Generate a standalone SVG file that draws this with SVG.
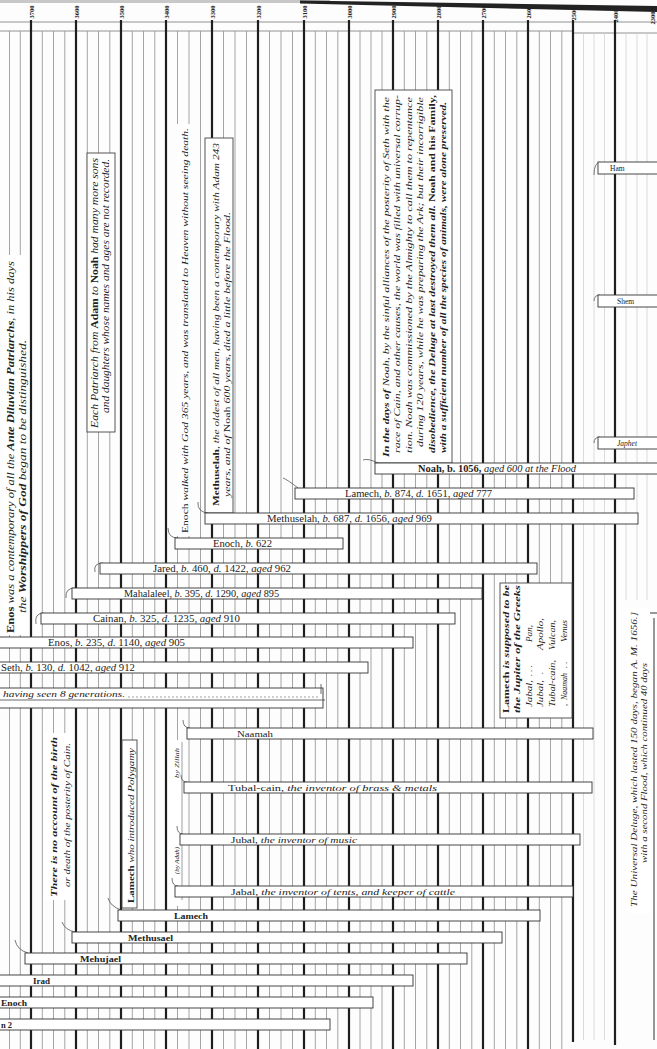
<svg xmlns="http://www.w3.org/2000/svg" width="657" height="1049" viewBox="0 0 657 1049">
<style>
.t{font-family:"Liberation Serif","Times New Roman",serif;fill:#222}
.i{font-style:italic}
.b{font-weight:bold}
.bar{fill:#fff;stroke:#333;stroke-width:0.9}
.box{fill:#fff;stroke:#444;stroke-width:0.9}
.wh{fill:#fff}
.thin{stroke:#9a9a9a;stroke-width:0.9;fill:none}
.thick{stroke:#1e1e1e;stroke-width:2.2;fill:none}
.faint{stroke:#d2d2d2;stroke-width:0.8;fill:none}
.curl{fill:none;stroke:#555;stroke-width:0.8}
.hl{stroke:#777;stroke-width:0.8;fill:none}
</style>
<rect x="0" y="0" width="657" height="1049" fill="#fdfdfd"/>
<rect x="0" y="0" width="330" height="3" fill="#c8c8c8"/>
<polygon points="300,0.5 657,6 657,12 300,3.5" fill="#222"/>
<g id="grid">
<path class="hl" d="M0 22H657M0 31H573M573 33H657"/>
<path class="thin" d="M9.5 31V1049M20.3 31V1049M42.3 31V1049M53.5 31V1049M64.8 31V1049M87.3 31V1049M98.5 31V1049M109.8 31V1049M132.3 31V1049M143.5 31V1049M154.8 31V1049M177.5 31V1049M189 31V1049M200.5 31V1049M223.5 31V1049M235 31V1049M246.5 31V1049M269.5 31V1049M281 31V1049M292.5 31V1049M315.3 31V1049M326.5 31V1049M337.8 31V1049M360 31V1049M371 31V1049M382 31V1049M404.3 31V1049M415.5 31V1049M426.8 31V1049M449.3 31V1049M460.5 31V1049M471.8 31V1049M494.3 31V1049M505.5 31V1049M516.8 31V1049M539.3 31V1049M550.5 31V1049M561.8 31V1049"/>
<path class="faint" d="M583.5 33V1040M594 33V1040M604.5 33V1040M626 33V600M637 33V600M647 33V600"/>
<path class="thick" d="M31 20V1049M76 20V1049M121 20V1049M166 20V1049M212 20V1049M258 20V1049M304 20V1049M349 20V1049M393 20V1049M438 20V1049M483 20V1049M528 20V1049M573 20V1042M615 20V1045"/>
<path d="M654 618V1040M649 613H657" stroke="#333" stroke-width="1" fill="none"/>
</g>
<g id="years" class="t b" font-size="6.5" text-anchor="middle">
<text transform="translate(33.5 12) rotate(-90)">3700</text>
<text transform="translate(78.5 12) rotate(-90)">3600</text>
<text transform="translate(123.5 12) rotate(-90)">3500</text>
<text transform="translate(168.5 12) rotate(-90)">3400</text>
<text transform="translate(214.5 12) rotate(-90)">3300</text>
<text transform="translate(260.5 12) rotate(-90)">3200</text>
<text transform="translate(306.5 12) rotate(-90)">3100</text>
<text transform="translate(351.5 12) rotate(-90)">3000</text>
<text transform="translate(395.5 12) rotate(-90)">2900</text>
<text transform="translate(440.5 12) rotate(-90)">2800</text>
<text transform="translate(485.5 12) rotate(-90)">2700</text>
<text transform="translate(530.5 12) rotate(-90)">2600</text>
<text transform="translate(575.5 14) rotate(-90)">2500</text>
<text transform="translate(617.5 16) rotate(-90)">2400</text>
<text transform="translate(655 18) rotate(-90)">2300</text>
</g>

<g id="note-enos">
<rect class="wh" x="3" y="255" width="25" height="380"/>
<text class="t i" font-size="9.5" transform="translate(13.5 633) rotate(-90)" textLength="372" lengthAdjust="spacingAndGlyphs"><tspan font-style="normal" font-weight="bold">Enos</tspan> was a contemporary of all the <tspan font-weight="bold">Ante Diluvian Patriarchs</tspan>, in his days</text>
<text class="t i" font-size="9.5" transform="translate(26 613) rotate(-90)" textLength="273" lengthAdjust="spacingAndGlyphs">the <tspan font-weight="bold">Worshippers of God</tspan> began to be distinguished.</text>
</g>
<g id="note-patriarchs">
<rect class="box" x="87" y="153" width="28" height="279"/>
<text class="t i" font-size="9.5" transform="translate(97.5 428) rotate(-90)" textLength="270" lengthAdjust="spacingAndGlyphs">Each Patriarch from <tspan font-style="normal" font-weight="bold">Adam</tspan> to <tspan font-style="normal" font-weight="bold">Noah</tspan> had many more sons</text>
<text class="t i" font-size="9.5" transform="translate(108.5 413) rotate(-90)" textLength="254" lengthAdjust="spacingAndGlyphs">and daughters whose names and ages are not recorded.</text>
</g>
<g id="note-enoch">
<rect class="wh" x="177" y="124" width="13" height="412"/>
<text class="t i" font-size="9" transform="translate(187.5 533) rotate(-90)" textLength="405" lengthAdjust="spacingAndGlyphs"><tspan font-style="normal">Enoch</tspan> walked with God 365 years, and was translated to Heaven without seeing death.</text>
</g>
<g id="note-methuselah">
<rect class="box" x="205" y="138" width="28" height="375"/>
<text class="t i" font-size="9" transform="translate(218.5 506) rotate(-90)" textLength="363" lengthAdjust="spacingAndGlyphs"><tspan font-style="normal" font-weight="bold">Methuselah</tspan>, the oldest of all men, having been a contemporary with Adam 243</text>
<text class="t i" font-size="9" transform="translate(230 497) rotate(-90)" textLength="285" lengthAdjust="spacingAndGlyphs">years, and of <tspan font-style="normal">Noah</tspan> 600 years, died a little before the Flood.</text>
</g>
<g id="note-noah">
<rect class="box" x="375" y="90" width="77" height="373"/>
<text class="t i" font-size="8.5" transform="translate(388.5 457) rotate(-90)" textLength="360" lengthAdjust="spacingAndGlyphs"><tspan font-weight="bold">In the days of</tspan> Noah, by the sinful alliances of the posterity of Seth with the</text>
<text class="t i" font-size="8.5" transform="translate(400 453) rotate(-90)" textLength="358" lengthAdjust="spacingAndGlyphs">race of Cain, and other causes, the world was filled with universal corrup-</text>
<text class="t i" font-size="8.5" transform="translate(411.5 453) rotate(-90)" textLength="356" lengthAdjust="spacingAndGlyphs">tion.    Noah was commissioned by the Almighty to call them to repentance</text>
<text class="t i" font-size="8.5" transform="translate(423 447) rotate(-90)" textLength="350" lengthAdjust="spacingAndGlyphs">during 120 years, while he was preparing the Ark; but their incorrigible</text>
<text class="t i b" font-size="8.5" transform="translate(434.5 453) rotate(-90)" textLength="358" lengthAdjust="spacingAndGlyphs">disobedience, the Deluge at last destroyed them all.  <tspan font-style="normal">Noah and his Family,</tspan></text>
<text class="t i b" font-size="8.5" transform="translate(446 453) rotate(-90)" textLength="351" lengthAdjust="spacingAndGlyphs">with a sufficient number of all the species of animals, were alone preserved.</text>
</g>
<g id="note-jupiter">
<rect class="box" x="500" y="583" width="72" height="135"/>
<text class="t i b" font-size="8.5" transform="translate(508.5 713) rotate(-90)" textLength="128" lengthAdjust="spacingAndGlyphs"><tspan font-style="normal">Lamech</tspan> is supposed to be</text>
<text class="t i b" font-size="8.5" transform="translate(520 713) rotate(-90)" textLength="128" lengthAdjust="spacingAndGlyphs">the Jupiter of the Greeks</text>
<g class="t i" font-size="8.5">
<text transform="translate(531.5 707) rotate(-90)" textLength="27" lengthAdjust="spacingAndGlyphs">Jabal,</text>
<text transform="translate(531.5 676) rotate(-90)">. . .</text>
<text transform="translate(531.5 642) rotate(-90)" textLength="17" lengthAdjust="spacingAndGlyphs">Pan,</text>
<text transform="translate(543 707) rotate(-90)" textLength="27" lengthAdjust="spacingAndGlyphs">Jubal,</text>
<text transform="translate(543 674) rotate(-90)">.</text>
<text transform="translate(543 650) rotate(-90)" textLength="32" lengthAdjust="spacingAndGlyphs">Apollo,</text>
<text transform="translate(555 707) rotate(-90)" textLength="47" lengthAdjust="spacingAndGlyphs">Tubal-cain,</text>
<text transform="translate(555 650) rotate(-90)" textLength="30" lengthAdjust="spacingAndGlyphs">Vulcan,</text>
<text transform="translate(567 706) rotate(-90)">,</text>
<text transform="translate(567 700) rotate(-90)" textLength="27" lengthAdjust="spacingAndGlyphs">Naamah</text>
<text transform="translate(567 668) rotate(-90)">. .</text>
<text transform="translate(567 642) rotate(-90)" textLength="22" lengthAdjust="spacingAndGlyphs">Venus</text>
</g>
</g>
<g id="note-cain">
<rect class="wh" x="44" y="733" width="28" height="167"/>
<text class="t i b" font-size="9" transform="translate(57 897) rotate(-90)" textLength="160" lengthAdjust="spacingAndGlyphs">There is no account of the birth</text>
<text class="t i" font-size="9" transform="translate(70 887) rotate(-90)" textLength="144" lengthAdjust="spacingAndGlyphs">or death of the posterity of Cain.</text>
</g>
<g id="note-polygamy">
<rect class="box" x="122" y="740" width="15" height="168"/>
<text class="t i" font-size="9" transform="translate(134 903) rotate(-90)" textLength="155" lengthAdjust="spacingAndGlyphs"><tspan font-style="normal" font-weight="bold">Lamech</tspan> who introduced Polygamy</text>
</g>
<g id="note-wives">
<rect class="wh" x="168" y="740" width="13" height="166"/>
<path d="M182 742V900" stroke="#888" stroke-width="0.8"/>
<text class="t i" font-size="7" transform="translate(178.5 778) rotate(-90)" textLength="30" lengthAdjust="spacingAndGlyphs">by Zillah</text>
<text class="t i" font-size="7" transform="translate(179 874) rotate(-90)" textLength="27" lengthAdjust="spacingAndGlyphs">(by Adah)</text>
</g>
<g id="note-flood">
<rect class="wh" x="626" y="608" width="24" height="305"/>
<text class="t i" font-size="7.5" transform="translate(636.5 907) rotate(-90)" textLength="295" lengthAdjust="spacingAndGlyphs">The Universal Deluge, which lasted 150 days, began A. M. 1656.]</text>
<text class="t i" font-size="7.5" transform="translate(646.5 863) rotate(-90)" textLength="200" lengthAdjust="spacingAndGlyphs">with a second Flood, which continued 40 days</text>
</g>

<g id="connectors" class="curl">
<path d="M44 613Q34 613 36 624"/>
<path d="M75 588Q65 588 66 598"/>
<path d="M103 563Q93 563 95 572"/>
<path d="M178 538Q168 538 168 528"/>
<path d="M208 513Q197 512 198 502"/>
<path d="M298 488Q288 480 283 478"/>
<path d="M378 463Q368 458 363 460"/>
<path d="M190 728Q183 728 183 720"/>
<path d="M187 782Q181 782 181 775"/>
<path d="M183 834Q177 834 177 826"/>
<path d="M178 886Q172 886 172 878"/>
<path d="M121 910Q110 906 108 898"/>
<path d="M75 932Q65 930 62 922"/>
<path d="M28 953Q17 950 15 940"/>
<path d="M600 162Q594 163 594 175"/>
<path d="M600 295Q594 295 594 301"/>
<path d="M600 437Q594 437 594 443"/>
<path d="M326 1019Q330 1021 328 1030"/>
</g>

<g id="bar-noah"><rect class="bar" x="375" y="463" width="290" height="11"/>
<text class="t" font-size="9.5" x="418" y="472" textLength="158" lengthAdjust="spacingAndGlyphs"><tspan font-weight="bold">Noah, b. 1056,</tspan> <tspan font-style="italic">aged 600 at the Flood</tspan></text></g>
<g id="bar-lamech"><rect class="bar" x="295" y="488" width="339" height="11"/>
<text class="t" font-size="9.5" x="345" y="497" textLength="147" lengthAdjust="spacingAndGlyphs">Lamech, <tspan font-style="italic">b.</tspan> 874, <tspan font-style="italic">d.</tspan> 1651, <tspan font-style="italic">aged</tspan> 777</text></g>
<g id="bar-methuselah"><rect class="bar" x="205" y="513" width="433" height="11"/>
<text class="t" font-size="9.5" x="267" y="522" textLength="165" lengthAdjust="spacingAndGlyphs">Methuselah, <tspan font-style="italic">b.</tspan> 687, <tspan font-style="italic">d.</tspan> 1656, <tspan font-style="italic">aged</tspan> 969</text></g>
<g id="bar-enoch"><rect class="bar" x="175" y="538" width="168" height="11"/>
<text class="t" font-size="9.5" x="213" y="547" textLength="59" lengthAdjust="spacingAndGlyphs">Enoch, <tspan font-style="italic">b.</tspan> 622</text></g>
<g id="bar-jared"><rect class="bar" x="100" y="563" width="437" height="11"/>
<text class="t" font-size="9.5" x="153" y="572" textLength="138" lengthAdjust="spacingAndGlyphs">Jared, <tspan font-style="italic">b.</tspan> 460, <tspan font-style="italic">d.</tspan> 1422, <tspan font-style="italic">aged</tspan> 962</text></g>
<g id="bar-mahalaleel"><rect class="bar" x="72" y="588" width="410" height="11"/>
<text class="t" font-size="9.5" x="124" y="597" textLength="155" lengthAdjust="spacingAndGlyphs">Mahalaleel, <tspan font-style="italic">b.</tspan> 395, <tspan font-style="italic">d.</tspan> 1290, <tspan font-style="italic">aged</tspan> 895</text></g>
<g id="bar-cainan"><rect class="bar" x="41" y="613" width="414" height="11"/>
<text class="t" font-size="9.5" x="93" y="622" textLength="147" lengthAdjust="spacingAndGlyphs">Cainan, <tspan font-style="italic">b.</tspan> 325, <tspan font-style="italic">d.</tspan> 1235, <tspan font-style="italic">aged</tspan> 910</text></g>
<g id="bar-enos"><rect class="bar" x="-5" y="637" width="418" height="11"/>
<text class="t" font-size="9.5" x="48" y="646" textLength="137" lengthAdjust="spacingAndGlyphs">Enos, <tspan font-style="italic">b.</tspan> 235, <tspan font-style="italic">d.</tspan> 1140, <tspan font-style="italic">aged</tspan> 905</text></g>
<g id="bar-seth"><rect class="bar" x="-5" y="662" width="373" height="11"/>
<text class="t" font-size="9.5" x="1" y="671" textLength="134" lengthAdjust="spacingAndGlyphs">Seth, <tspan font-style="italic">b.</tspan> 130, <tspan font-style="italic">d.</tspan> 1042, <tspan font-style="italic">aged</tspan> 912</text></g>
<g id="bar-adam"><rect class="bar" x="-5" y="688" width="328" height="20"/>
<path d="M0 700H325" stroke="#444" stroke-width="0.8"/>
<path d="M128 697H320" stroke="#777" stroke-width="0.7" stroke-dasharray="2 2"/>
<path d="M321 684V694" stroke="#444" stroke-width="0.8"/>
<text class="t i" font-size="9" x="3" y="697" textLength="122" lengthAdjust="spacingAndGlyphs">having seen 8 generations.</text></g>

<g id="bar-naamah"><rect class="bar" x="187" y="728" width="406" height="11"/>
<text class="t" font-size="9" x="237" y="737" textLength="36" lengthAdjust="spacingAndGlyphs">Naamah</text></g>
<g id="bar-tubalcain"><rect class="bar" x="184" y="782" width="408" height="11"/>
<text class="t" font-size="9" x="228" y="791" textLength="209" lengthAdjust="spacingAndGlyphs">Tubal-cain, <tspan font-style="italic">the inventor of brass &amp; metals</tspan></text></g>
<g id="bar-jubal"><rect class="bar" x="180" y="834" width="400" height="11"/>
<text class="t" font-size="9" x="231" y="843" textLength="126" lengthAdjust="spacingAndGlyphs">Jubal, <tspan font-style="italic">the inventor of music</tspan></text></g>
<g id="bar-jabal"><rect class="bar" x="175" y="886" width="398" height="11"/>
<text class="t" font-size="9" x="231" y="895" textLength="224" lengthAdjust="spacingAndGlyphs">Jabal, <tspan font-style="italic">the inventor of tents, and keeper of cattle</tspan></text></g>
<g id="bar-lamech-cain"><rect class="bar" x="118" y="910" width="422" height="11"/>
<text class="t b" font-size="8.5" x="174" y="919" textLength="34" lengthAdjust="spacingAndGlyphs">Lamech</text></g>
<g id="bar-methusael"><rect class="bar" x="72" y="932" width="430" height="11"/>
<text class="t b" font-size="8.5" x="128" y="941" textLength="45" lengthAdjust="spacingAndGlyphs">Methusael</text></g>
<g id="bar-mehujael"><rect class="bar" x="25" y="953" width="442" height="11"/>
<text class="t b" font-size="8.5" x="80" y="962" textLength="41" lengthAdjust="spacingAndGlyphs">Mehujael</text></g>
<g id="bar-irad"><rect class="bar" x="-5" y="975" width="418" height="11"/>
<text class="t b" font-size="8.5" x="33" y="984" textLength="17" lengthAdjust="spacingAndGlyphs">Irad</text></g>
<g id="bar-enoch-cain"><rect class="bar" x="-5" y="997" width="378" height="11"/>
<text class="t b" font-size="8.5" x="1" y="1006" textLength="26" lengthAdjust="spacingAndGlyphs">Enoch</text></g>
<g id="bar-cain"><rect class="bar" x="-5" y="1019" width="335" height="11"/>
<text class="t b" font-size="8.5" x="1" y="1028">n  2</text></g>

<g id="bar-ham"><rect class="bar" x="598" y="162" width="65" height="12"/>
<text class="t" font-size="7.5" x="610" y="171">Ham</text></g>
<g id="bar-shem"><rect class="bar" x="598" y="295" width="65" height="12"/>
<text class="t" font-size="7.5" x="617" y="304">Shem</text></g>
<g id="bar-japhet"><rect class="bar" x="598" y="437" width="65" height="12"/>
<text class="t i" font-size="7.5" x="617" y="446">Japhet</text></g>
</svg>
